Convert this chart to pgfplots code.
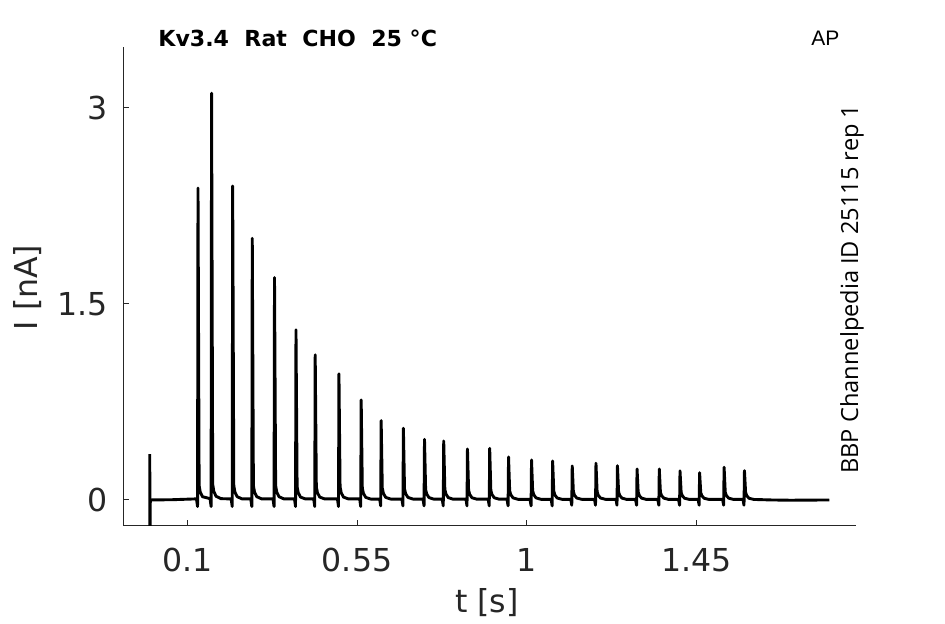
\documentclass[border=0pt]{standalone}
\usepackage{pgfplots}
\pgfplotsset{compat=1.18}
\usepackage{fontspec}
\setmainfont{DejaVu Sans}
\newfontfamily\titlefont{DejaVu Sans}
\newfontfamily\sidefont{Open Sans}
\newfontfamily\apfont{Liberation Sans}
\definecolor{axgray}{RGB}{38,38,38}
\begin{document}
\begin{tikzpicture}
\useasboundingbox (0,0) rectangle (472.5pt,312pt);
\begin{axis}[
  at={(61.5pt,49pt)}, anchor=south west,
  scale only axis, width=366.5pt, height=239.5pt,
  xmin=-0.071, xmax=1.874, ymin=-0.199, ymax=3.463,
  axis x line*=bottom, axis y line*=left,
  axis line style={axgray, line width=0.5pt, -},
  tick style={axgray, line width=0.5pt},
  tick align=inside, major tick length=3pt,
  xtick={0.1,0.55,1,1.45}, xticklabels={{0.1},{0.55},{1},{1.45}},
  ytick={0,1.5,3}, yticklabels={{0},{1.5},{3}},
  /pgf/number format/assume math mode=true,
  tick label style={font=\fontsize{15.8}{18}\selectfont, text=axgray},
  xticklabel style={inner sep=0pt, anchor=north, yshift=-11pt},
  yticklabel style={inner sep=0pt, anchor=east, xshift=-7.5pt},
  clip=true,
]
\addplot[black, line width=1.45pt, line join=round] coordinates {
(0.000,0.35) (0.0005,-0.30) (0.0015,0.000) (0.060,0.002) (0.120,0.008)
(0.124,0.008) (0.1268,-0.05) (0.128,2.385) (0.131,0.11) (0.134,0.06) (0.140,0.025)
(0.160,0.010) (0.1628,-0.05) (0.164,3.110) (0.167,0.12) (0.170,0.065) (0.176,0.028) (0.189,0.010)
(0.216,0.008) (0.2188,-0.05) (0.220,2.400) (0.223,0.11) (0.226,0.06) (0.232,0.025) (0.245,0.008)
(0.268,0.008) (0.2708,-0.05) (0.272,2.000) (0.275,0.11) (0.278,0.06) (0.284,0.025) (0.297,0.008)
(0.327,0.008) (0.3298,-0.05) (0.331,1.700) (0.334,0.11) (0.337,0.06) (0.343,0.025) (0.356,0.008)
(0.384,0.008) (0.3868,-0.05) (0.388,1.300) (0.391,0.10) (0.394,0.055) (0.400,0.022) (0.413,0.008)
(0.435,0.008) (0.4378,-0.05) (0.439,1.110) (0.442,0.10) (0.445,0.055) (0.451,0.022) (0.464,0.008)
(0.498,0.008) (0.5008,-0.05) (0.502,0.964) (0.505,0.10) (0.508,0.055) (0.514,0.022) (0.527,0.008)
(0.557,0.008) (0.5598,-0.05) (0.561,0.765) (0.564,0.09) (0.567,0.05) (0.573,0.02) (0.586,0.007)
(0.610,0.007) (0.6128,-0.045) (0.614,0.607) (0.617,0.09) (0.620,0.05) (0.626,0.02) (0.639,0.007)
(0.669,0.007) (0.6718,-0.045) (0.673,0.548) (0.676,0.085) (0.679,0.048) (0.685,0.02) (0.698,0.007)
(0.725,0.007) (0.7278,-0.045) (0.729,0.464) (0.732,0.08) (0.735,0.045) (0.741,0.018) (0.754,0.006)
(0.776,0.006) (0.7788,-0.045) (0.780,0.451) (0.783,0.08) (0.786,0.045) (0.792,0.018) (0.805,0.006)
(0.839,0.006) (0.8418,-0.045) (0.843,0.390) (0.846,0.075) (0.849,0.042) (0.855,0.017) (0.868,0.006)
(0.898,0.006) (0.9008,-0.045) (0.902,0.395) (0.905,0.075) (0.908,0.042) (0.914,0.017) (0.927,0.006)
(0.948,0.006) (0.9508,-0.045) (0.952,0.329) (0.955,0.07) (0.958,0.04) (0.964,0.016) (0.977,0.005)
(1.009,0.005) (1.0118,-0.045) (1.013,0.306) (1.016,0.07) (1.019,0.04) (1.025,0.016) (1.038,0.005)
(1.065,0.005) (1.0678,-0.045) (1.069,0.298) (1.072,0.068) (1.075,0.038) (1.081,0.015) (1.094,0.005)
(1.117,0.005) (1.1198,-0.04) (1.121,0.260) (1.124,0.065) (1.127,0.036) (1.133,0.015) (1.146,0.005)
(1.180,0.005) (1.1828,-0.04) (1.184,0.281) (1.187,0.065) (1.190,0.036) (1.196,0.015) (1.209,0.005)
(1.237,0.005) (1.2398,-0.04) (1.241,0.262) (1.244,0.062) (1.247,0.035) (1.253,0.014) (1.266,0.004)
(1.289,0.004) (1.2918,-0.04) (1.293,0.237) (1.296,0.06) (1.299,0.034) (1.305,0.014) (1.318,0.004)
(1.348,0.004) (1.3508,-0.04) (1.352,0.237) (1.355,0.06) (1.358,0.034) (1.364,0.014) (1.377,0.004)
(1.403,0.004) (1.4058,-0.04) (1.407,0.222) (1.410,0.058) (1.413,0.033) (1.419,0.013) (1.432,0.004)
(1.455,0.004) (1.4578,-0.04) (1.459,0.209) (1.462,0.056) (1.465,0.032) (1.471,0.013) (1.484,0.004)
(1.520,0.004) (1.5228,-0.04) (1.524,0.250) (1.527,0.06) (1.530,0.034) (1.536,0.014) (1.549,0.004)
(1.574,0.004) (1.5768,-0.04) (1.578,0.224) (1.581,0.058) (1.584,0.033) (1.590,0.013) (1.603,0.004)
(1.650,0.000) (1.700,-0.002) (1.803,0.000)
};
\end{axis}
\node[anchor=base, text=axgray, font=\fontsize{15.8}{18}\selectfont] at (243.5pt,5.5pt) {t [s]};
\node[anchor=base, rotate=90, text=axgray, font=\fontsize{15.8}{18}\selectfont] at (18.5pt,168.25pt) {I [nA]};
\node[anchor=base west, inner sep=0pt, font=\titlefont\bfseries\fontsize{11.05}{13}\selectfont] at (79pt,288.5pt) {Kv3.4\ \ Rat\ \ CHO\ \ 25 °C};
\node[anchor=base west, inner sep=0pt, font=\apfont\fontsize{10.5}{12}\selectfont] at (405.5pt,289pt) {AP};
\node[anchor=base west, inner sep=0pt, rotate=90, font=\sidefont\fontsize{11.8}{14}\selectfont] at (429pt,75pt) {BBP Channelpedia ID 25115 rep 1};
\end{tikzpicture}
\end{document}
